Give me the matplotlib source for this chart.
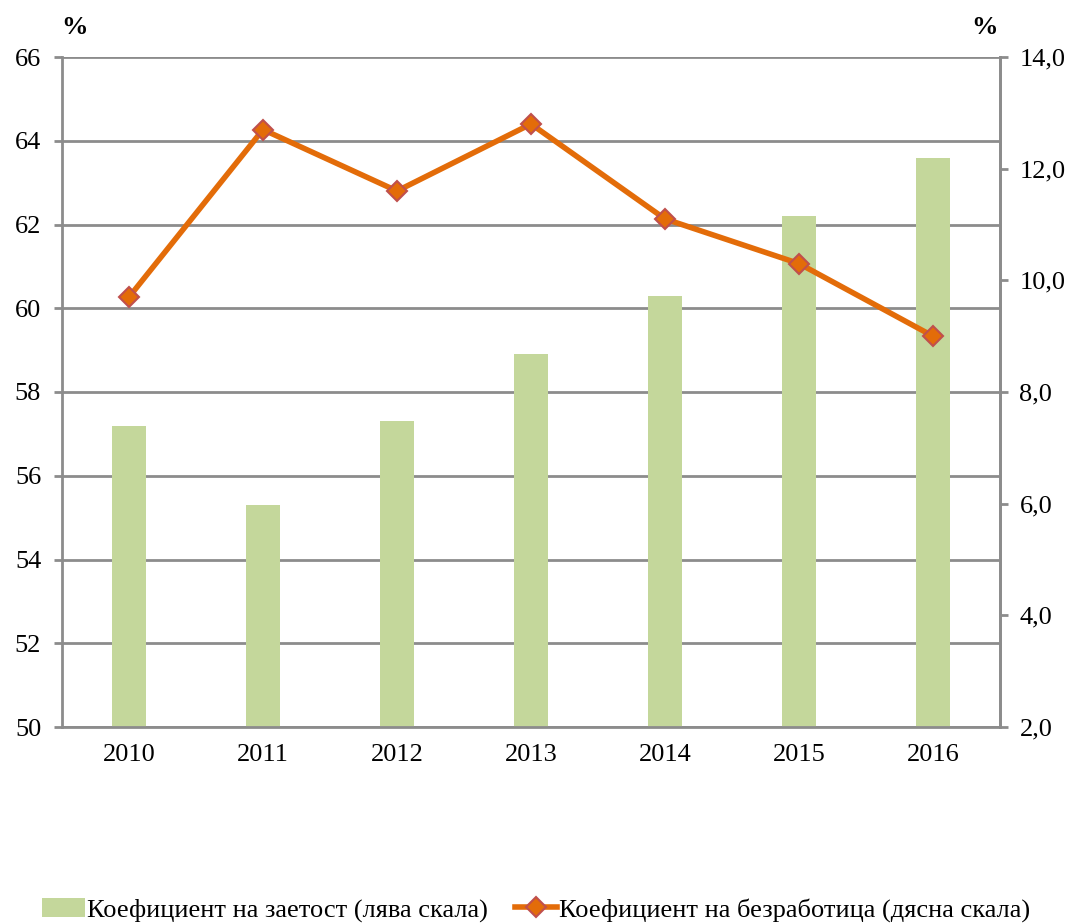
import matplotlib
matplotlib.use("Agg")
import matplotlib.pyplot as plt
from matplotlib.lines import Line2D
from matplotlib.patches import Patch

years = ["2010", "2011", "2012", "2013", "2014", "2015", "2016"]
employment = [57.2, 55.3, 57.3, 58.9, 60.3, 62.2, 63.6]
unemployment = [9.7, 12.7, 11.6, 12.8, 11.1, 10.3, 9.0]
left_ticks = [50, 52, 54, 56, 58, 60, 62, 64, 66]
right_ticks = [2.0, 4.0, 6.0, 8.0, 10.0, 12.0, 14.0]

plt.rcParams['font.family'] = ['Liberation Serif', 'DejaVu Serif']

bar_color = "#C4D79B"
line_color = "#E36C09"
edge_color = "#C0504D"
grid_color = "#8C8C8C"
fs = 19

fig = plt.figure(figsize=(10.73, 9.24), dpi=100)
ax = fig.add_axes([62 / 1073, 197 / 924, 938 / 1073, 670 / 924])
x = list(range(len(years)))

# gridlines under the bars
for t in left_ticks:
    ax.axhline(t, color=grid_color, lw=2, zorder=0)
ax.bar(x, employment, width=0.25, color=bar_color, zorder=2)
ax.set_ylim(50, 66)
ax.set_xlim(-0.5, 6.5)
ax.set_yticks(left_ticks)
ax.set_xticks(x)
ax.set_xticklabels(years)
ax.tick_params(axis='y', labelsize=fs, length=6, width=2, color=grid_color, pad=9)
ax.tick_params(axis='x', labelsize=fs, length=0, pad=12)
ax.spines["top"].set_visible(False)
for s in ["left", "right", "bottom"]:
    ax.spines[s].set_color(grid_color)
    ax.spines[s].set_linewidth(2)

ax2 = ax.twinx()
ax2.plot(x, unemployment, color=line_color, lw=4, marker="D", markersize=10,
         markerfacecolor=line_color, markeredgecolor=edge_color, markeredgewidth=1.5,
         zorder=5)
ax2.set_ylim(2, 14)
ax2.set_yticks(right_ticks)
ax2.set_yticklabels([f"{t:.1f}".replace(".", ",") for t in right_ticks])
ax2.tick_params(axis='y', labelsize=fs, length=6, width=2, color=grid_color, pad=8)
for s in ["top", "left", "bottom"]:
    ax2.spines[s].set_visible(False)
ax2.spines["right"].set_color(grid_color)
ax2.spines["right"].set_linewidth(2)

fig.text(75 / 1073, 1 - 27 / 924, "%", fontsize=fs, fontweight="bold", ha="center", va="center")
fig.text(985 / 1073, 1 - 27 / 924, "%", fontsize=fs, fontweight="bold", ha="center", va="center")

handles = [
    Patch(facecolor=bar_color, edgecolor="none"),
    Line2D([0], [0], color=line_color, lw=4, marker="D", markersize=10,
           markerfacecolor=line_color, markeredgecolor=edge_color, markeredgewidth=1.5),
]
labels = ["Коефициент на заетост (лява скала)", "Коефициент на безработица (дясна скала)"]
fig.legend(handles, labels, loc="center", bbox_to_anchor=(0.5, 1 - 910 / 924),
           ncol=2, frameon=False, fontsize=19, handlelength=1.6, handletextpad=0.1,
           columnspacing=1.0, borderaxespad=0)

fig.savefig("out.png", dpi=100)
